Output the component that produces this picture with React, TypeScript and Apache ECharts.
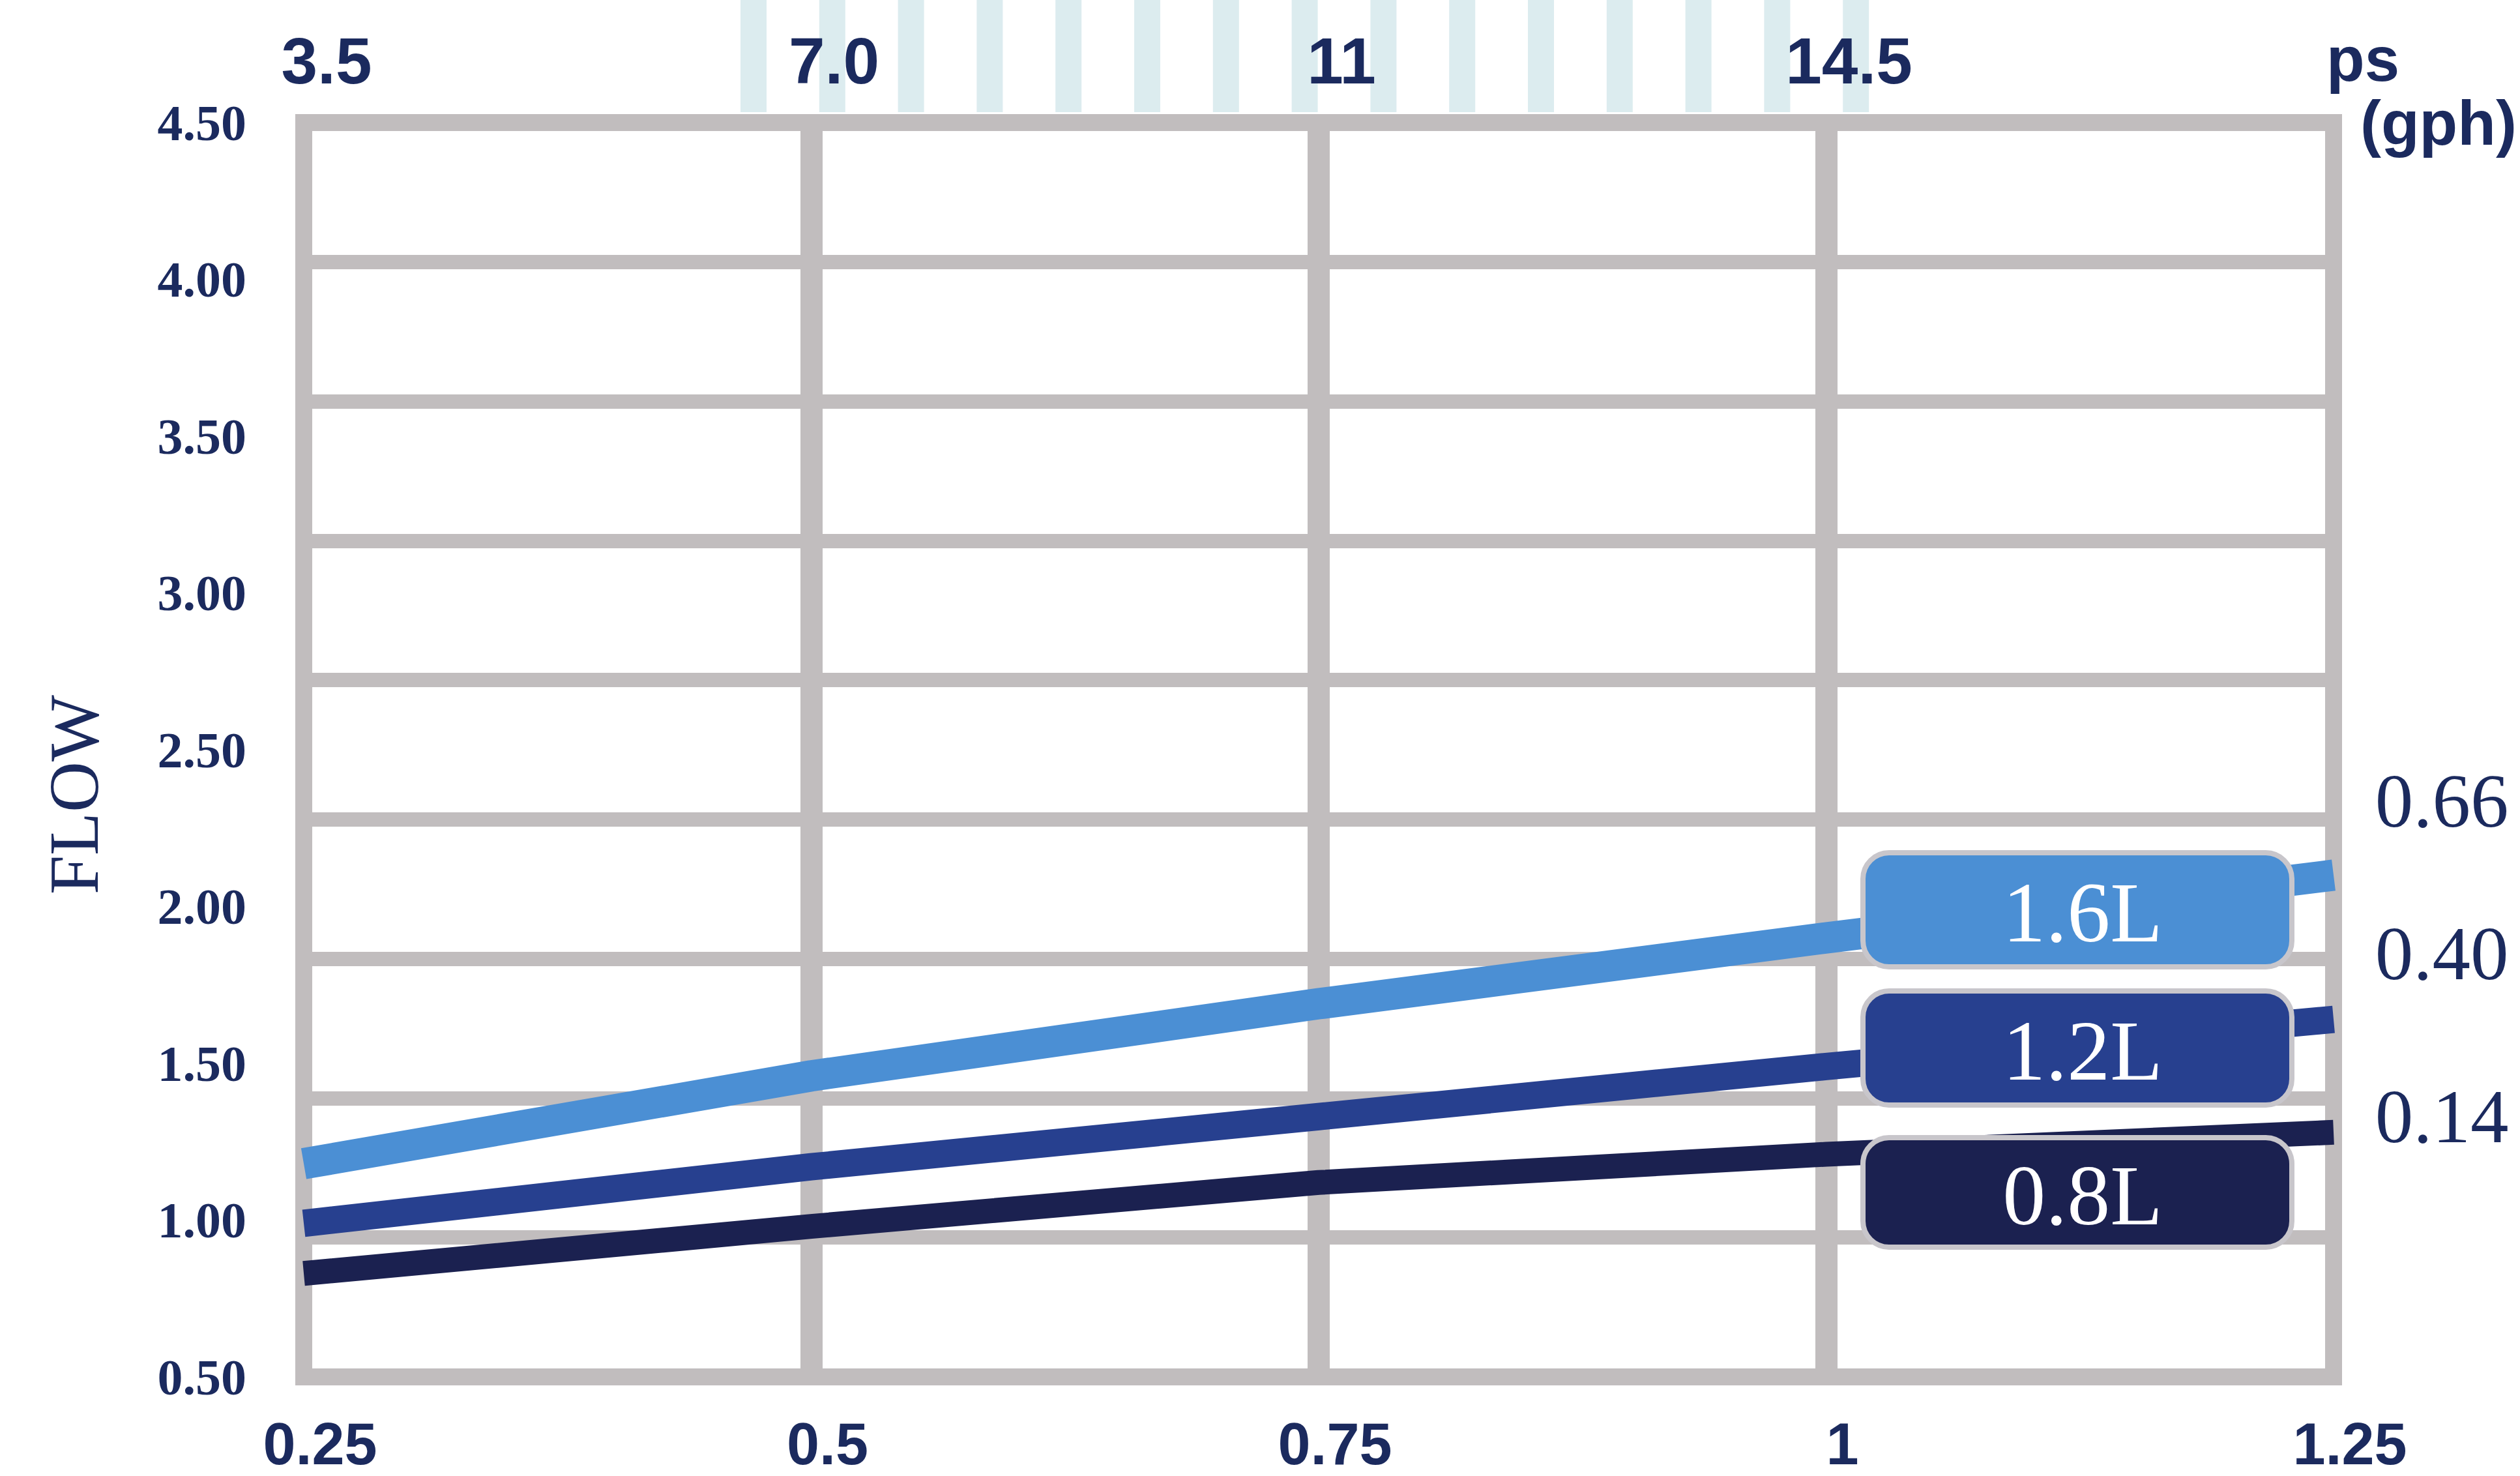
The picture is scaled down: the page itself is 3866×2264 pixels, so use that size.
import React, { useEffect, useRef } from "react";
import * as echarts from "echarts";

// ---- data ----
const xValues = [0.25, 0.5, 0.75, 1.0, 1.25];
const topTickLabels = ["3.5", "7.0", "11", "14.5", ""];
const seriesNames = ["1.6L", "1.2L", "0.8L"];
const flow16 = [1.18, 1.46, 1.69, 1.9, 2.1];
const flow12 = [0.99, 1.17, 1.33, 1.49, 1.64];
const flow08 = [0.83, 0.98, 1.12, 1.21, 1.28];
const rightLabels = ["0.66", "0.40", "0.14"];
const yAxisName = "FLOW";
const topUnit = ["ps", "(gph)"];

// ---- style ----
const NAVY = "#1b2a5e";
const GRID = "#c1bdbe";
const COLORS = ["#4b8fd4", "#27408f", "#1b2150"];
const WIDTHS = [48, 42, 38];
const STRIPE = "#dcecef";

const W = 3866;
const H = 2264;
const G = { left: 466, right: 286, top: 188, bottom: 152 };

function idxOf(v: number): number {
  for (let i = 0; i < xValues.length; i++) if (Math.abs(xValues[i] - v) < 1e-6) return i;
  return -1;
}

export default function App() {
  const ref = useRef<HTMLDivElement>(null);
  useEffect(() => {
    if (!ref.current) return;
    const chart = echarts.init(ref.current, undefined, { renderer: "svg" });
    const allSeries = [flow16, flow12, flow08];

    const graphic: any[] = [];
    // decorative stripes at top
    for (let i = 0; i < 15; i++) {
      graphic.push({
        type: "rect",
        z: -1,
        shape: { x: 1136 + i * 120.8, y: 0, width: 40, height: 172 },
        style: { fill: STRIPE },
      });
    }
    graphic.push({
      type: "text",
      x: 113,
      y: 1219,
      rotation: Math.PI / 2,
      z: 5,
      style: {
        text: yAxisName,
        fontFamily: "Liberation Serif",
        fontSize: 108,
        fill: NAVY,
        align: "center",
        verticalAlign: "middle",
        textAlign: "center",
        textVerticalAlign: "middle",
      },
    });
    graphic.push({
      type: "text",
      x: 3569,
      y: 90,
      z: 5,
      style: {
        text: topUnit[0],
        fontFamily: "Liberation Sans",
        fontWeight: "bold",
        fontSize: 96,
        fill: NAVY,
        align: "left",
        verticalAlign: "middle",
        textAlign: "left",
        textVerticalAlign: "middle",
      },
    });
    graphic.push({
      type: "text",
      x: 3621,
      y: 188,
      z: 5,
      style: {
        text: topUnit[1],
        fontFamily: "Liberation Sans",
        fontWeight: "bold",
        fontSize: 96,
        fill: NAVY,
        align: "left",
        verticalAlign: "middle",
        textAlign: "left",
        textVerticalAlign: "middle",
      },
    });
    const boxTops = [1308, 1520, 1745];
    const boxH = [175, 175, 168];
    seriesNames.forEach((name, i) => {
      graphic.push({
        type: "rect",
        z: 10,
        shape: { x: 2858, y: boxTops[i], width: 658, height: boxH[i], r: 40 },
        style: { fill: COLORS[i], stroke: "#c8c6cb", lineWidth: 8 },
      });
      graphic.push({
        type: "text",
        z: 11,
        x: 3195,
        y: boxTops[i] + boxH[i] / 2 + 4,
        style: {
          text: name,
          fontFamily: "Liberation Serif",
          fontSize: 132,
          fill: "#ffffff",
          align: "center",
          verticalAlign: "middle",
          textAlign: "center",
          textVerticalAlign: "middle",
        },
      });
    });
    const rightYs = [1228, 1462, 1712];
    rightLabels.forEach((t, i) => {
      graphic.push({
        type: "text",
        z: 5,
        x: 3746,
        y: rightYs[i],
        style: {
          text: t,
          fontFamily: "Liberation Serif",
          fontSize: 117,
          fill: NAVY,
          align: "center",
          verticalAlign: "middle",
          textAlign: "center",
          textVerticalAlign: "middle",
        },
      });
    });

    const borderLine = { show: true, onZero: false, lineStyle: { color: GRID, width: 26, cap: "square" } };

    chart.setOption({
      animation: false,
      backgroundColor: "#ffffff",
      grid: G,
      xAxis: [
        {
          type: "value",
          min: 0.25,
          max: 1.25,
          interval: 0.25,
          position: "bottom",
          axisLine: borderLine,
          axisTick: { show: false },
          splitLine: { show: true, showMinLine: false, showMaxLine: false, lineStyle: { color: GRID, width: 34 } },
          axisLabel: {
            margin: 58,
            fontFamily: "Liberation Sans",
            fontWeight: "bold",
            fontSize: 90,
            color: NAVY,
            padding: [0, 0, 0, 50],
            formatter: (v: number) => String(Math.round(v * 100) / 100),
          },
        },
        {
          type: "value",
          min: 0.25,
          max: 1.25,
          interval: 0.25,
          position: "top",
          axisLine: borderLine,
          axisTick: { show: false },
          splitLine: { show: false },
          axisLabel: {
            margin: 45,
            fontFamily: "Liberation Sans",
            fontWeight: "bold",
            fontSize: 100,
            color: NAVY,
            padding: [0, 0, 0, 70],
            formatter: (v: number) => {
              const i = idxOf(v);
              return i >= 0 ? topTickLabels[i] : "";
            },
          },
        },
      ],
      yAxis: [
        {
          type: "value",
          min: 0.5,
          max: 4.5,
          interval: 0.5,
          position: "left",
          axisLine: borderLine,
          axisTick: { show: false },
          splitLine: { show: false },
          axisLabel: {
            margin: 88,
            fontFamily: "Liberation Serif",
            fontWeight: "bold",
            fontSize: 78,
            color: NAVY,
            formatter: (v: number) => v.toFixed(2),
          },
        },
        {
          type: "value",
          min: 0,
          max: 9,
          interval: 1,
          position: "right",
          axisLine: borderLine,
          axisTick: { show: false },
          axisLabel: { show: false },
          splitLine: { show: true, showMinLine: false, showMaxLine: false, lineStyle: { color: GRID, width: 22 } },
        },
      ],
      series: seriesNames.map((name, i) => ({
        name,
        type: "line",
        xAxisIndex: 0,
        yAxisIndex: 0,
        symbol: "none",
        clip: false,
        z: 3,
        lineStyle: { color: COLORS[i], width: WIDTHS[i], cap: "butt", join: "round" },
        data: xValues.map((x, j) => [x, allSeries[i][j]]),
      })),
      graphic,
    });
    return () => chart.dispose();
  }, []);
  return (
    <div
      ref={ref}
      style={{ position: "fixed", left: 0, top: 0, width: W, height: H, background: "#fff" }}
    />
  );
}
